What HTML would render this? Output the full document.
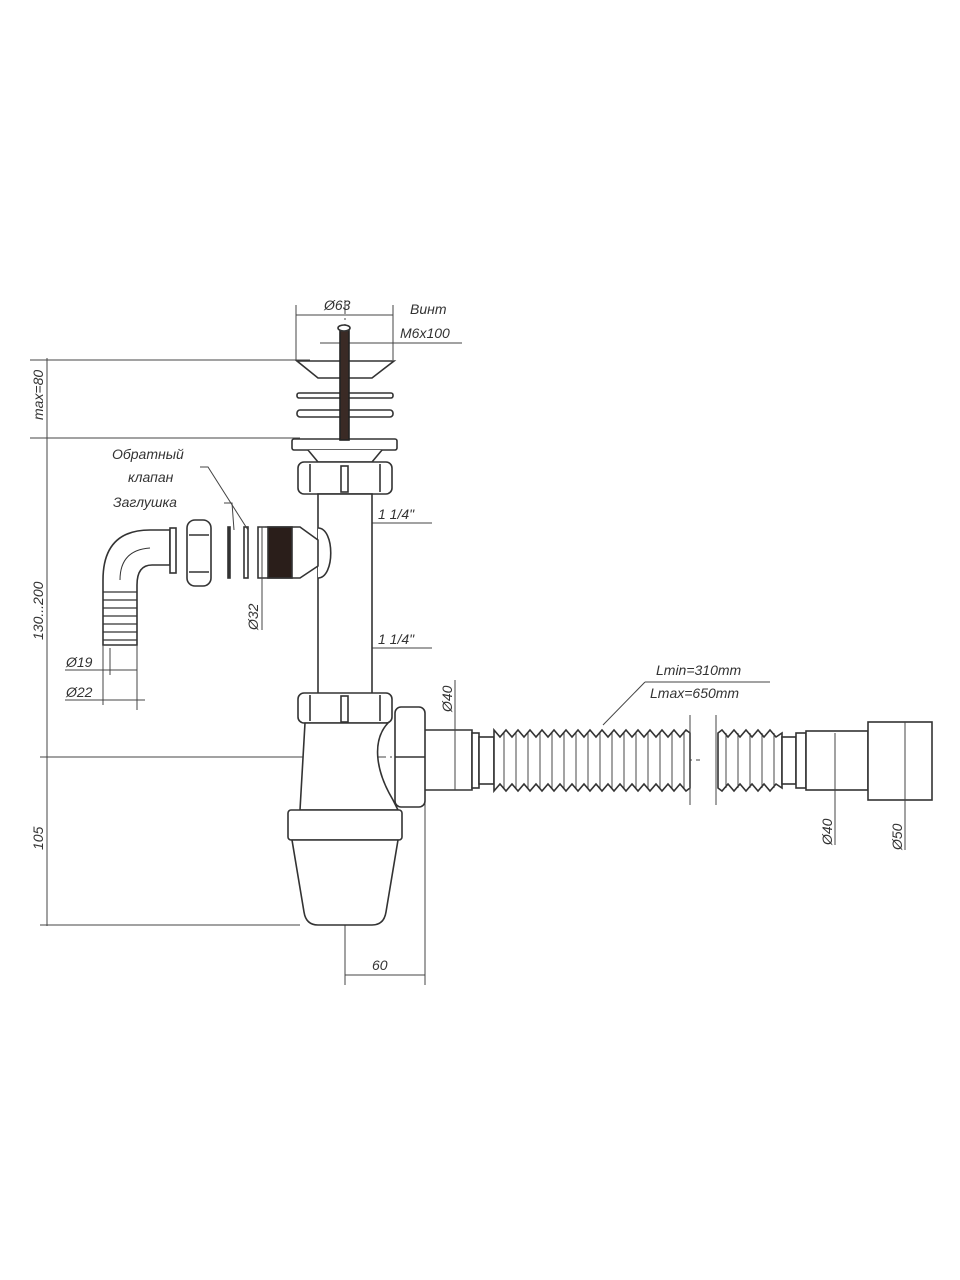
<!DOCTYPE html>
<html><head><meta charset="utf-8"><style>
html,body{margin:0;padding:0;background:#fff}
svg{display:block}
text{font-family:"Liberation Sans","DejaVu Sans",sans-serif;font-style:italic;fill:#333;font-size:14px}
</style></head><body>
<svg width="960" height="1280" viewBox="0 0 960 1280" xmlns="http://www.w3.org/2000/svg">
<g fill="none" stroke="#444" stroke-width="1">
<!-- left dimension -->
<line x1="47" y1="358" x2="47" y2="926"/>
<line x1="30" y1="360" x2="310" y2="360"/>
<line x1="30" y1="438" x2="300" y2="438"/>
<line x1="40" y1="757" x2="300" y2="757"/>
<line x1="40" y1="925" x2="300" y2="925"/>
<!-- center line -->
<line x1="345" y1="300" x2="345" y2="985" stroke-dasharray="14 4 2 4"/>
<line x1="300" y1="757" x2="480" y2="757" stroke-dasharray="14 4 2 4"/>
<line x1="480" y1="760" x2="700" y2="760" stroke-dasharray="14 4 2 4"/>
<!-- Ø63 dim -->
<line x1="296" y1="305" x2="296" y2="360"/>
<line x1="393" y1="305" x2="393" y2="360"/>
<line x1="296" y1="315" x2="393" y2="315"/>
<line x1="320" y1="343" x2="462" y2="343"/>
<!-- 60 dim -->
<line x1="345" y1="925" x2="345" y2="985"/>
<line x1="425" y1="800" x2="425" y2="985"/>
<line x1="345" y1="975" x2="425" y2="975"/>
<!-- 1 1/4 dims -->
<line x1="318" y1="523" x2="432" y2="523"/>
<line x1="318" y1="648" x2="432" y2="648"/>
</g>
<g fill="#fff" stroke="#333" stroke-width="1.6">
<!-- grate -->
<path d="M297 361 H394 L372 378 H318 Z"/>
<rect x="297" y="393" width="96" height="5" rx="2"/>
<rect x="297" y="410" width="96" height="7" rx="3"/>
<rect x="292" y="439" width="105" height="11" rx="2"/>
<path d="M308 450 L318 462 H372 L382 450"/>
<rect x="340" y="327" width="9" height="113" fill="#3a2a25" stroke="#222"/>
<ellipse cx="344" cy="328" rx="6" ry="3"/>
<!-- nut top -->
<rect x="298" y="462" width="94" height="32" rx="6"/>
<line x1="310" y1="464" x2="310" y2="492"/><line x1="380" y1="464" x2="380" y2="492"/>
<rect x="341" y="466" width="7" height="26"/>
<!-- pipe -->
<rect x="318" y="494" width="54" height="200"/>
<!-- tee branch -->
<path d="M318 528 C335 528 335 578 318 578"/>
<path d="M258 527 H300 L318 540 V566 L300 578 H258 Z"/>
<rect x="268" y="527" width="24" height="51" fill="#2a1e1a"/>
<!-- bottom nut -->
<rect x="298" y="693" width="94" height="30" rx="6"/>
<line x1="310" y1="695" x2="310" y2="721"/><line x1="380" y1="695" x2="380" y2="721"/>
<rect x="341" y="696" width="7" height="26"/>
<!-- bottle -->
<path d="M305 723 H388 C372 740 375 770 393 800 L398 810 H300 Z"/>
<rect x="288" y="810" width="114" height="30" rx="3"/>
<path d="M292 840 H398 L386 912 Q384 925 372 925 H318 Q306 925 304 912 Z"/>
<!-- side nut -->
<path d="M425 730 H472 V790 H425"/>
<rect x="395" y="707" width="30" height="100" rx="6"/>
<line x1="395" y1="757" x2="425" y2="757"/>
<!-- hose -->
<rect x="472" y="733" width="7" height="55"/>
<rect x="479" y="737" width="15" height="47"/>
<path d="M494 730 L500 737 L506 730 L512 737 L518 730 L524 737 L530 730 L536 737 L542 730 L548 737 L554 730 L560 737 L566 730 L572 737 L578 730 L584 737 L590 730 L596 737 L602 730 L608 737 L614 730 L620 737 L626 730 L632 737 L638 730 L644 737 L650 730 L656 737 L662 730 L668 737 L674 730 L680 737 L686 730 L690 733 V788 L686 791 L680 784 L674 791 L668 784 L662 791 L656 784 L650 791 L644 784 L638 791 L632 784 L626 791 L620 784 L614 791 L608 784 L602 791 L596 784 L590 791 L584 784 L578 791 L572 784 L566 791 L560 784 L554 791 L548 784 L542 791 L536 784 L530 791 L524 784 L518 791 L512 784 L506 791 L500 784 L494 791 Z"/>
<path d="M718 733 L722 730 L728 737 L734 730 L740 737 L746 730 L752 737 L758 730 L764 737 L770 730 L776 737 L782 733 V788 L776 784 L770 791 L764 784 L758 791 L752 784 L746 791 L740 784 L734 791 L728 784 L722 791 L718 788 Z"/>
<rect x="782" y="737" width="14" height="47"/>
<rect x="796" y="733" width="10" height="55"/>
<rect x="806" y="731" width="62" height="59"/>
<rect x="868" y="722" width="64" height="78"/>
<!-- elbow -->
<path d="M103 645 V580 Q103 530 150 530 H170 V565 H152 Q137 565 137 585 V645 Z"/>
<path d="M120 580 Q120 550 150 548" stroke-width="1"/>
<rect x="170" y="528" width="6" height="45"/>
<rect x="187" y="520" width="24" height="66" rx="8"/>
<line x1="189" y1="535" x2="209" y2="535"/><line x1="189" y1="572" x2="209" y2="572"/>
<rect x="228" y="527" width="2" height="51" fill="#333"/>
<rect x="244" y="527" width="4" height="51"/>
</g>
<g stroke="#333" stroke-width="1.2">
<line x1="103" y1="592" x2="137" y2="592"/><line x1="103" y1="600" x2="137" y2="600"/>
<line x1="103" y1="608" x2="137" y2="608"/><line x1="103" y1="616" x2="137" y2="616"/>
<line x1="103" y1="624" x2="137" y2="624"/><line x1="103" y1="632" x2="137" y2="632"/>
<line x1="103" y1="640" x2="137" y2="640"/>
<g stroke-width="0.9">
<line x1="504" y1="733" x2="504" y2="788"/><line x1="516" y1="733" x2="516" y2="788"/><line x1="528" y1="733" x2="528" y2="788"/><line x1="540" y1="733" x2="540" y2="788"/><line x1="552" y1="733" x2="552" y2="788"/><line x1="564" y1="733" x2="564" y2="788"/><line x1="576" y1="733" x2="576" y2="788"/><line x1="588" y1="733" x2="588" y2="788"/><line x1="600" y1="733" x2="600" y2="788"/><line x1="612" y1="733" x2="612" y2="788"/><line x1="624" y1="733" x2="624" y2="788"/><line x1="636" y1="733" x2="636" y2="788"/><line x1="648" y1="733" x2="648" y2="788"/><line x1="660" y1="733" x2="660" y2="788"/><line x1="672" y1="733" x2="672" y2="788"/><line x1="684" y1="733" x2="684" y2="788"/>
<line x1="726" y1="733" x2="726" y2="788"/><line x1="738" y1="733" x2="738" y2="788"/><line x1="750" y1="733" x2="750" y2="788"/><line x1="762" y1="733" x2="762" y2="788"/><line x1="774" y1="733" x2="774" y2="788"/>
</g>
</g>
<g fill="none" stroke="#444" stroke-width="1">
<line x1="690" y1="715" x2="690" y2="805"/><line x1="716" y1="715" x2="716" y2="805"/>
<line x1="455" y1="680" x2="455" y2="790"/>
<line x1="835" y1="733" x2="835" y2="845"/>
<line x1="905" y1="722" x2="905" y2="850"/>
<line x1="603" y1="725" x2="645" y2="682"/><line x1="645" y1="682" x2="770" y2="682"/>
<line x1="103" y1="645" x2="103" y2="705"/><line x1="137" y1="645" x2="137" y2="710"/>
<line x1="110" y1="648" x2="110" y2="675"/>
<line x1="65" y1="670" x2="137" y2="670"/>
<line x1="65" y1="700" x2="145" y2="700"/>
<line x1="260" y1="527" x2="265" y2="527"/>
<line x1="262" y1="527" x2="262" y2="630"/>
<path d="M200 467 L208 467 L248 530"/>
<path d="M224 503 L232 503 L234 530"/>
</g>
<g>
<text x="324" y="310">Ø63</text>
<text x="410" y="314">Винт</text>
<text x="400" y="338">M6x100</text>
<text x="378" y="519" font-size="13">1 1/4"</text>
<text x="378" y="644" font-size="13">1 1/4"</text>
<text x="112" y="459" font-size="13">Обратный</text>
<text x="128" y="482" font-size="13">клапан</text>
<text x="113" y="507" font-size="13">Заглушка</text>
<text x="66" y="667" font-size="13">Ø19</text>
<text x="66" y="697" font-size="13">Ø22</text>
<text x="372" y="970">60</text>
<text x="656" y="675" font-size="13">Lmin=310mm</text>
<text x="650" y="698" font-size="13">Lmax=650mm</text>
<text transform="translate(43 420) rotate(-90)" font-size="12">max=80</text>
<text transform="translate(43 640) rotate(-90)" font-size="13">130...200</text>
<text transform="translate(43 850) rotate(-90)" font-size="13">105</text>
<text transform="translate(258 630) rotate(-90)" font-size="13">Ø32</text>
<text transform="translate(452 712) rotate(-90)" font-size="13">Ø40</text>
<text transform="translate(832 845) rotate(-90)" font-size="13">Ø40</text>
<text transform="translate(902 850) rotate(-90)" font-size="13">Ø50</text>
</g>
</svg>
</body></html>
